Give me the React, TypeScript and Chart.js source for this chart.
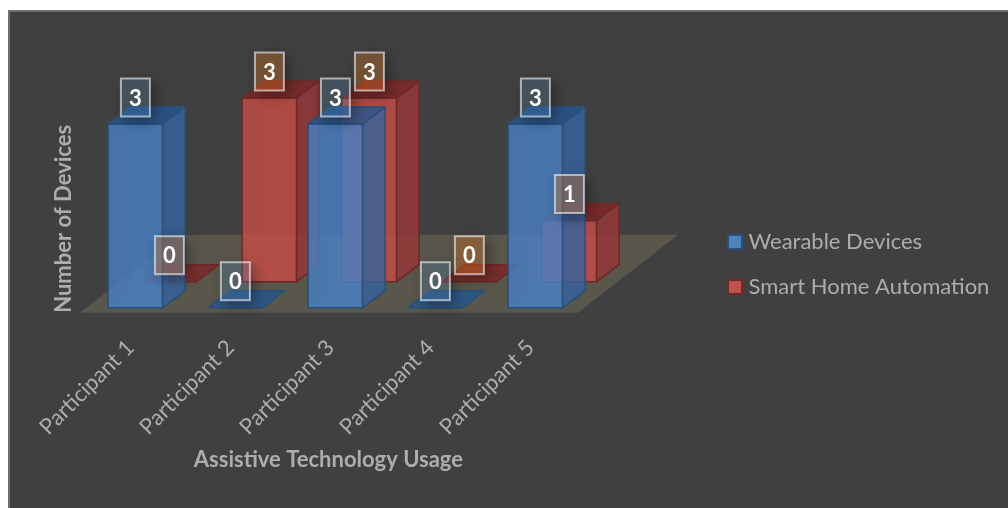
import { useEffect, useRef } from "react";
import { Chart, registerables } from "chart.js";

Chart.register(...registerables);

const categories = ["Participant 1", "Participant 2", "Participant 3", "Participant 4", "Participant 5"];
const wearableDevices = [3, 0, 3, 0, 3];
const smartHomeAutomation = [0, 3, 3, 0, 1];

const TEXT_FONT = "Lato";
const TEXT_COLOR = "#adadad";

// Oblique projection used for the box depth and the second row of bars.
const BAR_DEPTH = { dx: 22.5, dy: -17 };
const ROW_SHIFT = [
  { dx: 0, dy: 0 },
  { dx: 34, dy: -26 },
];

const SKINS = [
  {
    front: "rgba(72,128,196,0.8)",
    side: "rgba(54,97,155,0.8)",
    top: "rgba(36,85,142,0.8)",
    back: "rgba(90,140,200,0.1)",
    edge: "#27507f",
    labelFill: "rgba(70,130,175,0.25)",
  },
  {
    front: "rgba(192,78,71,0.85)",
    side: "rgba(144,56,55,0.85)",
    top: "rgba(124,40,38,0.85)",
    back: "rgba(190,80,70,0.1)",
    edge: "#6e2826",
    labelFill: "rgba(210,110,30,0.36)",
  },
];

type Pt = [number, number];

function face(ctx: CanvasRenderingContext2D, pts: Pt[], fill: string, edge: string) {
  ctx.beginPath();
  pts.forEach(([x, y], i) => (i ? ctx.lineTo(x, y) : ctx.moveTo(x, y)));
  ctx.closePath();
  ctx.fillStyle = fill;
  ctx.fill();
  ctx.strokeStyle = edge;
  ctx.lineWidth = 1.5;
  ctx.lineJoin = "round";
  ctx.stroke();
}

// Draws one dataset as translucent boxes, rear faces first.
function drawBoxes(chart: any, index: number) {
  const ctx: CanvasRenderingContext2D = chart.ctx;
  const meta = chart.getDatasetMeta(index);
  const skin = SKINS[index];
  const shift = ROW_SHIFT[index];
  const { dx, dy } = BAR_DEPTH;
  ctx.save();
  meta.data.forEach((bar: any) => {
    const l = bar.x - bar.width / 2 + shift.dx;
    const r = bar.x + bar.width / 2 + shift.dx;
    const t = bar.y + shift.dy;
    const b = bar.base + shift.dy;
    if (b - t > 0.5) {
      face(ctx, [[l + dx, t + dy], [r + dx, t + dy], [r + dx, b + dy], [l + dx, b + dy]], skin.back, skin.back);
      face(ctx, [[l, b], [l + dx, b + dy], [r + dx, b + dy], [r, b]], skin.back, skin.back);
      face(ctx, [[l, t], [r, t], [r, b], [l, b]], skin.front, skin.edge);
      face(ctx, [[r, t], [r + dx, t + dy], [r + dx, b + dy], [r, b]], skin.side, skin.edge);
    }
    face(ctx, [[l, t], [l + dx, t + dy], [r + dx, t + dy], [r, t]], skin.top, skin.edge);
  });
  ctx.restore();
}

// Nudges an axis title off the centre of its scale.
function offsetTitle(chart: any, scale: any, ox: number, oy: number) {
  if (scale.titleOffsetApplied) return;
  scale.titleOffsetApplied = true;
  const draw = scale.drawTitle.bind(scale);
  scale.drawTitle = () => {
    chart.ctx.save();
    chart.ctx.translate(ox, oy);
    draw();
    chart.ctx.restore();
  };
}

// Soft shadow that falls only outside a value tag, so the tag stays translucent.
function tagShadow(ctx: CanvasRenderingContext2D, x: number, y: number, w: number, h: number) {
  const away = 3000;
  ctx.save();
  ctx.beginPath();
  ctx.rect(0, 0, ctx.canvas.width, ctx.canvas.height);
  ctx.rect(x, y, w, h);
  ctx.clip("evenodd");
  ctx.shadowColor = "rgba(0,0,0,0.4)";
  ctx.shadowBlur = 14;
  ctx.shadowOffsetX = away + 4;
  ctx.shadowOffsetY = 4;
  ctx.fillStyle = "#000";
  ctx.fillRect(x - away, y, w, h);
  ctx.restore();
}

const chartDressing = {
  id: "chartDressing",
  beforeDraw(chart: any) {
    const { ctx, width, height } = chart;
    ctx.save();
    ctx.fillStyle = "#404040";
    ctx.fillRect(0, 0, width, height);
    ctx.fillStyle = "#6f6f6f";
    ctx.fillRect(0, 0, width, 2);
    ctx.fillRect(0, 0, 2, height);
    ctx.restore();
  },
  afterLayout(chart: any) {
    // The key sits to the right of the floor, outside the plot rectangle.
    const key = chart.legend;
    key.left = 701.5;
    key.right = 1000;
    key.top = 198;
    key.bottom = 498;
    offsetTitle(chart, chart.scales.x, -7, 0);
    offsetTitle(chart, chart.scales.y, 0, 3);
  },
  beforeDatasetsDraw(chart: any) {
    const { ctx, chartArea } = chart;
    const y = chartArea.bottom + 5;
    const l = chartArea.left - 5.4;
    const r = chartArea.right - 7.4;
    ctx.save();
    ctx.beginPath();
    ctx.moveTo(l, y);
    ctx.lineTo(r, y);
    ctx.lineTo(r + 100, y - 78);
    ctx.lineTo(l + 100, y - 78);
    ctx.closePath();
    ctx.fillStyle = "#59564c";
    ctx.fill();
    ctx.restore();
  },
  beforeDatasetDraw(chart: any, args: any) {
    drawBoxes(chart, args.index);
    return false;
  },
  afterDatasetsDraw(chart: any) {
    const { ctx } = chart;
    chart.data.datasets.forEach((dataset: any, index: number) => {
      const meta = chart.getDatasetMeta(index);
      const shift = ROW_SHIFT[index];
      meta.data.forEach((bar: any, i: number) => {
        const cx = bar.x + shift.dx;
        const cy = bar.y + shift.dy - 26.5;
        const w = 29;
        const h = 38;
        tagShadow(ctx, cx - w / 2, cy - h / 2, w, h);
        ctx.save();
        ctx.fillStyle = SKINS[index].labelFill;
        ctx.fillRect(cx - w / 2, cy - h / 2, w, h);
        ctx.strokeStyle = "rgba(255,255,255,0.58)";
        ctx.lineWidth = 2;
        ctx.strokeRect(cx - w / 2, cy - h / 2, w, h);
        ctx.fillStyle = "#ffffff";
        ctx.font = `bold 22px ${TEXT_FONT}`;
        ctx.textAlign = "center";
        ctx.textBaseline = "middle";
        ctx.fillText(String(dataset.data[i]), cx, cy + 1);
        ctx.restore();
      });
    });
  },
};

function swatch(fill: string, edge: string) {
  const c = document.createElement("canvas");
  c.width = 16;
  c.height = 16;
  const g = c.getContext("2d")!;
  g.fillStyle = fill;
  g.fillRect(0, 0, 16, 16);
  g.strokeStyle = edge;
  g.lineWidth = 2;
  g.strokeRect(1, 1, 14, 14);
  return c;
}

export default function App() {
  const ref = useRef<HTMLCanvasElement>(null);
  useEffect(() => {
    document.body.style.overflow = "hidden";
    const keyMarks = [swatch("#4f81bd", "#27507f"), swatch("#c0504d", "#6e2826")];
    const chart = new Chart(ref.current!, {
      type: "bar",
      data: {
        labels: categories,
        datasets: [
          { label: "Wearable Devices", data: wearableDevices, backgroundColor: "#4f81bd" },
          { label: "Smart Home Automation", data: smartHomeAutomation, backgroundColor: "#c0504d" },
        ],
      },
      plugins: [chartDressing],
      options: {
        animation: false,
        responsive: false,
        devicePixelRatio: 1,
        layout: { padding: { top: 114, left: 0, right: 422.6, bottom: 0 } },
        datasets: { bar: { grouped: false, categoryPercentage: 1, barPercentage: 0.544 } },
        plugins: {
          tooltip: { enabled: false },
          legend: {
            position: "chartArea",
            align: "start",
            labels: {
              color: TEXT_COLOR,
              font: { family: TEXT_FONT, size: 22 },
              usePointStyle: true,
              boxWidth: 5,
              boxHeight: 5,
              padding: 23,
              generateLabels: (c: any) =>
                c.data.datasets.map((d: any, i: number) => ({
                  text: d.label,
                  datasetIndex: i,
                  pointStyle: keyMarks[i],
                  fontColor: TEXT_COLOR,
                  lineWidth: 0,
                })),
            },
          },
        },
        scales: {
          x: {
            grid: { display: false },
            border: { display: false },
            ticks: {
              color: TEXT_COLOR,
              font: { family: TEXT_FONT, size: 22 },
              minRotation: 45,
              maxRotation: 45,
              autoSkip: false,
              padding: 19,
              labelOffset: -5,
            },
            title: {
              display: true,
              text: "Assistive Technology Usage",
              color: TEXT_COLOR,
              font: { family: TEXT_FONT, size: 22, weight: "bold" },
              padding: { top: 0, bottom: 35 },
            },
            afterFit: (s: any) => {
              s.height = 200.3;
            },
          },
          y: {
            min: 0,
            max: 3,
            grid: { display: false },
            border: { display: false },
            ticks: { display: false },
            title: {
              display: true,
              text: "Number of Devices",
              color: TEXT_COLOR,
              font: { family: TEXT_FONT, size: 22, weight: "bold" },
              padding: { top: 43, bottom: 0 },
            },
            afterFit: (s: any) => {
              s.width = 77.4;
            },
          },
        },
      },
    } as any);
    return () => chart.destroy();
  }, []);
  return (
    <div style={{ position: "absolute", left: 8, top: 10, width: 1000, height: 498 }}>
      <canvas ref={ref} width={1000} height={498} style={{ display: "block" }} />
    </div>
  );
}
